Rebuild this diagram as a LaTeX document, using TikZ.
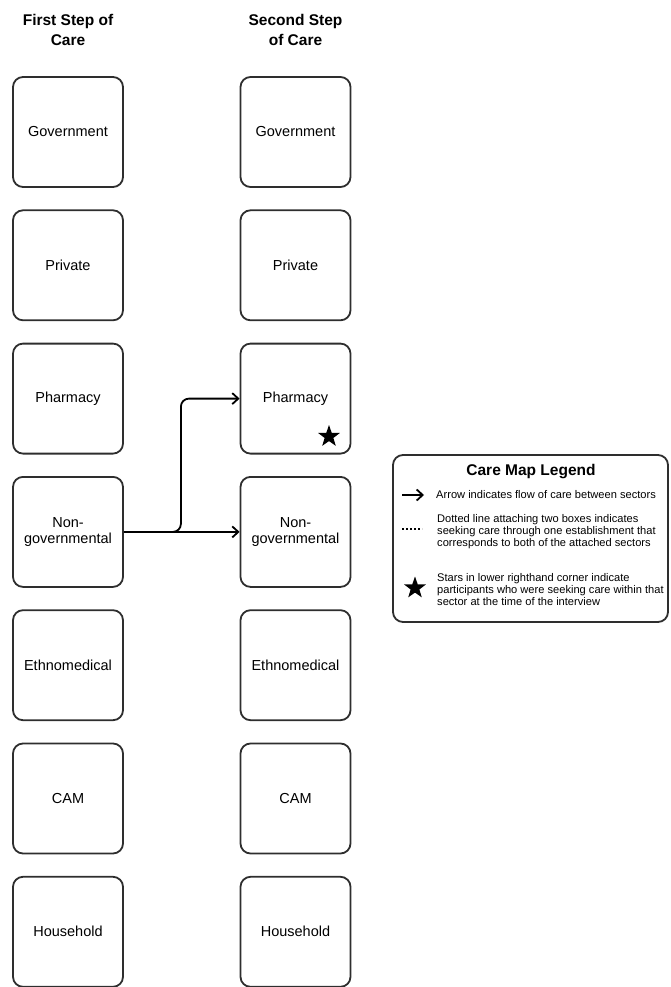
\documentclass[tikz,border=0pt]{standalone}
\usepackage{fontspec}
\setmainfont{Liberation Sans}
\usetikzlibrary{arrows.meta,shapes.geometric}
\begin{document}
\begin{tikzpicture}[x=1pt,y=-1pt,
  sector/.style={draw=black!82, line width=1.8pt, rounded corners=10pt,
    minimum width=110pt, minimum height=110pt, inner sep=2pt, align=center,
    font=\fontsize{14.5}{16.5}\selectfont},
  header/.style={align=center, font=\bfseries\fontsize{15.5}{20}\selectfont},
  flow/.style={line width=1.8pt, -{Straight Barb[length=6pt,width=11pt,line width=1.8pt]}},
  starmark/.style={star, star points=5, star point ratio=2.5, fill=black, draw=none,
    minimum size=23pt, inner sep=0pt},
  legtext/.style={anchor=west, align=left, inner sep=0pt,
    font=\fontsize{11.1}{12}\selectfont},
  legbox/.style={draw=black!82, line width=1.8pt, rounded corners=10pt}
]
\useasboundingbox (0,0) rectangle (670,987);

% headers
\node[header] (h1) at (68,30) {First Step of\\Care};
\node[header] (h2) at (295.5,30) {Second Step\\of Care};

% columns
\foreach \i/\name/\lab in {0/gov/Government,1/pri/Private,2/pha/Pharmacy,
  3/ngo/{Non-\\governmental},4/eth/Ethnomedical,5/cam/CAM,6/hou/Household}{
  \node[sector] (L\name) at (68,{132+133.3*\i}) {\lab};
  \node[sector] (R\name) at (295.5,{132+133.3*\i}) {\lab};
}

% star in second-step pharmacy
\node[starmark] (starP) at (329,436.5) {};

% flows
\draw[flow] (Lngo.east) -- (Rngo.west);
\draw[flow, rounded corners=8pt] (Lngo.east) -- ++(57,0) |- (Rpha.west);

% legend
\draw[legbox] (393,455) rectangle (668,622);
\node[font=\bfseries\fontsize{15.5}{18}\selectfont] (legtitle) at (531,472) {Care Map Legend};
\coordinate (la1) at (402,495);
\coordinate (la2) at (424,495);
\draw[flow] (la1) -- (la2);
\node[legtext] (lt1) at (436,495) {Arrow indicates flow of care between sectors};
\coordinate (ld1) at (402,529);
\coordinate (ld2) at (422,529);
\draw[line width=1.8pt, dash pattern=on 1.8pt off 2.2pt] (ld1) -- (ld2);
\node[legtext] (lt2) at (437,532) {Dotted line attaching two boxes indicates\\seeking care through one establishment that\\corresponds to both of the attached sectors};
\node[starmark] (starL) at (415,588) {};
\node[legtext] (lt3) at (437,590) {Stars in lower righthand corner indicate\\participants who were seeking care within that\\sector at the time of the interview};
\end{tikzpicture}
\end{document}
